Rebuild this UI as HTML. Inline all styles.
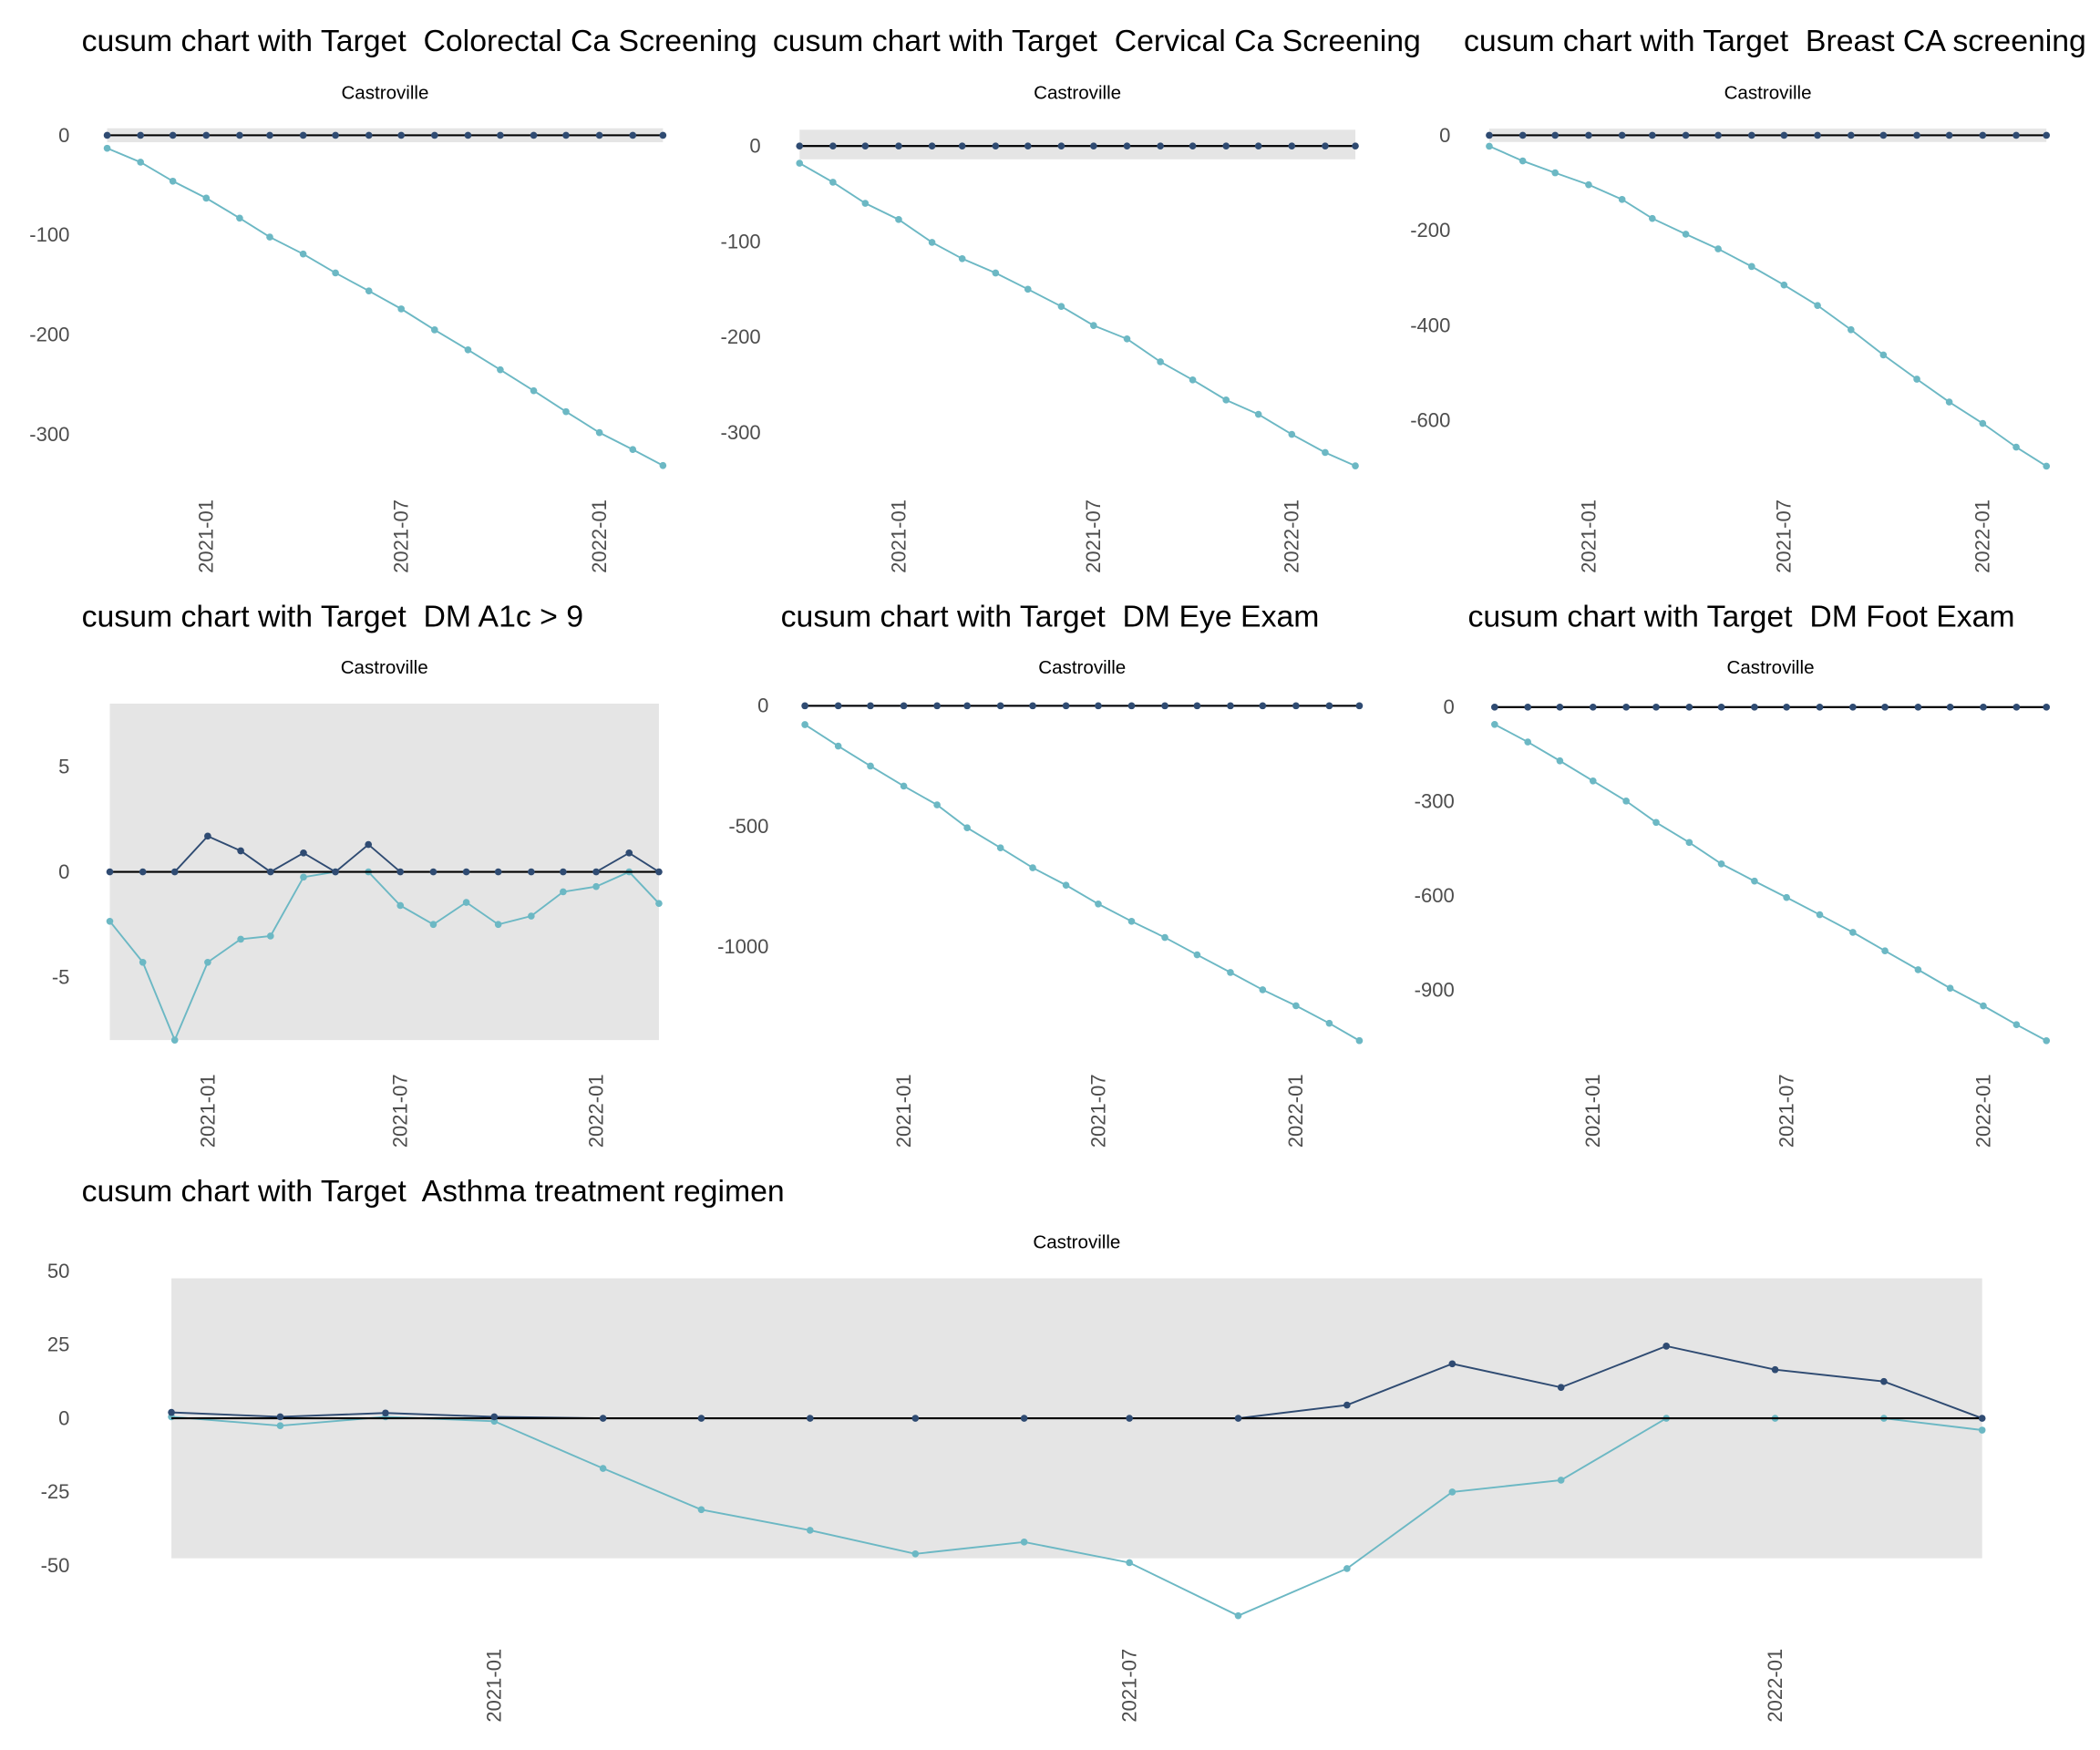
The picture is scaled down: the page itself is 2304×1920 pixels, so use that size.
<!DOCTYPE html>
<html><head><meta charset="utf-8"><style>
html,body{margin:0;padding:0;background:#fff;}
svg{display:block;font-family:"Liberation Sans",Arial,sans-serif;}
text{white-space:pre;}
</style></head><body>
<svg id="chart" width="2304" height="1920" viewBox="0 0 1568 1306.67" xmlns="http://www.w3.org/2000/svg"></svg>
<script>
// Month labels (Oct 2020 .. Mar 2022)
const months = ["2020-10","2020-11","2020-12","2021-01","2021-02","2021-03","2021-04","2021-05","2021-06","2021-07","2021-08","2021-09","2021-10","2021-11","2021-12","2022-01","2022-02","2022-03"];
const xTickLabels = ["2021-01","2021-07","2022-01"];

const colorectalLow = [-13,-27,-46,-63,-83,-102,-119,-138,-156,-174,-195,-215,-235,-256,-277,-298,-315,-331];
const colorectalHigh = [0,0,0,0,0,0,0,0,0,0,0,0,0,0,0,0,0,0];
const colorectalTicks = [0,-100,-200,-300];

const cervicalLow = [-18,-38,-60,-77,-101,-118,-133,-150,-168,-188,-202,-226,-245,-266,-281,-302,-321,-335];
const cervicalHigh = [0,0,0,0,0,0,0,0,0,0,0,0,0,0,0,0,0,0];
const cervicalTicks = [0,-100,-200,-300];

const breastLow = [-23,-54,-79,-104,-135,-175,-208,-239,-276,-315,-358,-409,-462,-513,-561,-606,-656,-696];
const breastHigh = [0,0,0,0,0,0,0,0,0,0,0,0,0,0,0,0,0,0];
const breastTicks = [0,-200,-400,-600];

const a1cLow = [-2.35,-4.3,-8,-4.3,-3.2,-3.05,-0.25,0,0,-1.6,-2.5,-1.45,-2.5,-2.1,-0.95,-0.7,0,-1.5];
const a1cHigh = [0,0,0,1.7,1.0,0,0.9,0,1.3,0,0,0,0,0,0,0,0.9,0];
const a1cTicks = [5,0,-5];

const eyeLow = [-78,-167,-250,-333,-411,-506,-589,-672,-744,-822,-894,-961,-1033,-1106,-1178,-1244,-1317,-1389];
const eyeHigh = [0,0,0,0,0,0,0,0,0,0,0,0,0,0,0,0,0,0];
const eyeTicks = [0,-500,-1000];

const footLow = [-55,-111,-171,-235,-299,-367,-431,-499,-554,-606,-661,-717,-776,-836,-895,-951,-1011,-1062];
const footHigh = [0,0,0,0,0,0,0,0,0,0,0,0,0,0,0,0,0,0];
const footTicks = [0,-300,-600,-900];

const asthmaLow = [0.5,-2.5,0.5,-1,-17,-31,-38,-46,-42,-49,-67,-51,-25,-21,0,0,0,-4];
const asthmaHigh = [2,0.5,1.8,0.5,0,0,0,0,0,0,0,4.5,18.5,10.5,24.5,16.5,12.5,0];
const asthmaTicks = [50,25,0,-25,-50];

const NS="http://www.w3.org/2000/svg";
const svg=document.getElementById('chart');
function mk(tag,attrs,parent){const e=document.createElementNS(NS,tag);for(const k in attrs)e.setAttribute(k,attrs[k]);(parent||svg).appendChild(e);return e;}
function dayOf(m){const [y,mo]=m.split('-').map(Number);return Date.UTC(y,mo-1,1)/86400000;}

const panels=[
 {title:"cusum chart with Target  Colorectal Ca Screening",tx:61,ty:30,sy:69,x0:80,x1:495,y0:101,ppu:0.745,low:colorectalLow,high:colorectalHigh,ticks:colorectalTicks,band:[-7,7],labEnd:52,xlabY:428,name:"colorectal"},
 {title:"cusum chart with Target  Cervical Ca Screening",tx:577,ty:30,sy:69,x0:597,x1:1012,y0:109,ppu:0.713,low:cervicalLow,high:cervicalHigh,ticks:cervicalTicks,band:[-14,17],labEnd:568,xlabY:428,name:"cervical"},
 {title:"cusum chart with Target  Breast CA screening",tx:1093,ty:30,sy:69,x0:1112,x1:1528,y0:101,ppu:0.355,low:breastLow,high:breastHigh,ticks:breastTicks,band:[-14,14],labEnd:1083,xlabY:428,name:"breast"},
 {title:"cusum chart with Target  DM A1c > 9",tx:61,ty:460,sy:498,x0:82,x1:492,y0:651,ppu:15.7,low:a1cLow,high:a1cHigh,ticks:a1cTicks,band:[-8,8],labEnd:52,xlabY:857,name:"a1c"},
 {title:"cusum chart with Target  DM Eye Exam",tx:583,ty:460,sy:498,x0:601,x1:1015,y0:527,ppu:0.18,low:eyeLow,high:eyeHigh,ticks:eyeTicks,band:null,labEnd:574,xlabY:857,name:"eye"},
 {title:"cusum chart with Target  DM Foot Exam",tx:1096,ty:460,sy:498,x0:1116,x1:1528,y0:528,ppu:0.2345,low:footLow,high:footHigh,ticks:footTicks,band:null,labEnd:1086,xlabY:857,name:"foot"},
 {title:"cusum chart with Target  Asthma treatment regimen",tx:61,ty:889,sy:927,x0:128,x1:1480,y0:1059,ppu:2.2,low:asthmaLow,high:asthmaHigh,ticks:asthmaTicks,band:[-47.5,47.5],labEnd:52,xlabY:1286,name:"asthma"}
];

const d0=dayOf(months[0]), d1=dayOf(months[months.length-1]);
panels.forEach(p=>{
  const g=mk('g',{});
  
  
  const xs=m=>p.x0+(dayOf(m)-d0)/(d1-d0)*(p.x1-p.x0);
  const ys=v=>p.y0-v*p.ppu;
  const t=mk('text',{x:p.tx,y:p.ty+8,'font-size':23,fill:'#000'},g);t.textContent=p.title;
  
  
  const s=mk('text',{x:(p.x0+p.x1)/2,y:p.sy+5,'font-size':14,fill:'#000','text-anchor':'middle'},g);s.textContent="Castroville";
  
  
  if(p.band){const r=mk('rect',{x:p.x0,y:ys(p.band[1]),width:p.x1-p.x0,height:(p.band[1]-p.band[0])*p.ppu,fill:'#e5e5e5'},g);
    
    }
  p.ticks.forEach(v=>{const l=mk('text',{x:p.labEnd,y:ys(v)+5,'font-size':15,fill:'#4d4d4d','text-anchor':'end'},g);l.textContent=String(v);
    
    });
  xTickLabels.forEach(m=>{const x=xs(m);const l=mk('text',{x:0,y:0,'font-size':15,fill:'#4d4d4d','text-anchor':'start',transform:`translate(${x+5},${p.xlabY}) rotate(-90)`},g);l.textContent=m;
    
    });
  [[p.low,'#6cb8c4','low'],[p.high,'#2f4b72','high']].forEach(([arr,c,nm],idx)=>{
    const pts=arr.map((v,i)=>xs(months[i]).toFixed(2)+','+ys(v).toFixed(2)).join(' ');
    const pl=mk('polyline',{points:pts,fill:'none',stroke:c,'stroke-width':1.3},g);
    
    
    if(idx===1){const z=mk('line',{x1:p.x0,x2:p.x1,y1:ys(0),y2:ys(0),stroke:'#000','stroke-width':1.4},g);
      
      }
    arr.forEach((v,i)=>{const ci=mk('circle',{cx:xs(months[i]),cy:ys(v),r:2.6,fill:c},g);
      
      });
  });
});
</script>
</body></html>
